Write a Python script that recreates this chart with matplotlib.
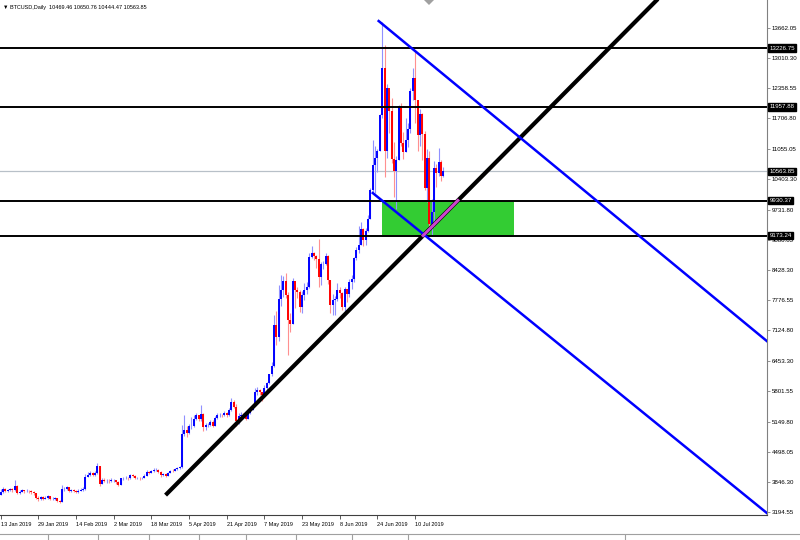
import numpy as np
import matplotlib
matplotlib.use("Agg")
import matplotlib.pyplot as plt
import matplotlib.transforms as mtransforms
from matplotlib import font_manager
from matplotlib.patches import Rectangle, Polygon

# --- daily BTCUSD bars (bar index 0 = 13 Jan 2019), open = previous close ---
first_open = 3560
close = [3620, 3700, 3640, 3670, 3690, 3660, 3760, 3610, 3630, 3660,
         3640, 3650, 3640, 3620, 3600, 3500, 3470, 3510, 3480, 3500,
         3530, 3470, 3480, 3490, 3440, 3420, 3690, 3690, 3730, 3650,
         3660, 3650, 3630, 3650, 3670, 3690, 3960, 4000, 4040, 4000,
         4040, 4190, 3810, 3890, 3870, 3870, 3860, 3880, 3880, 3850,
         3780, 3920, 3930, 3940, 3920, 4000, 3980, 3920, 3930, 3920,
         3930, 3980, 4060, 4040, 4080, 4100, 4110, 4060, 4000, 4010,
         3980, 4040, 4090, 4080, 4120, 4140, 4160, 4880, 4960, 4900,
         5050, 5060, 5200, 5290, 5200, 5320, 5030, 5080, 5080, 5150,
         5060, 5230, 5290, 5300, 5290, 5330, 5290, 5400, 5580, 5470,
         5160, 5280, 5290, 5280, 5210, 5330, 5400, 5500, 5790, 5830,
         5780, 5730, 5880, 5990, 6170, 6360, 7230, 6980, 7800, 8000,
         8200, 7880, 7350, 7260, 8190, 7990, 7950, 7630, 7880, 7990,
         8050, 8700, 8800, 8730, 8660, 8270, 8550, 8560, 8740, 8210,
         7680, 7790, 7810, 8000, 7930, 7630, 8010, 7920, 8170, 8230,
         8690, 8860, 8970, 9320, 9080, 9270, 9530, 10150, 10700, 10860,
         11010, 11770, 12800, 11000, 12370, 11870, 10820, 10580, 10800, 11980,
         11180, 10980, 11240, 11470, 12290, 12570, 12100, 11350, 11800, 11370,
         10200, 10850, 9430, 9680, 10630, 10530, 10760, 10469.46, 10563.85]
high = [3700, 3730, 3720, 3700, 3720, 3710, 3890, 3770, 3670, 3700,
        3680, 3690, 3670, 3660, 3640, 3610, 3530, 3540, 3530, 3530,
        3560, 3540, 3510, 3520, 3500, 3460, 3780, 3740, 3760, 3740,
        3700, 3690, 3680, 3690, 3710, 3730, 4010, 4060, 4090, 4070,
        4080, 4260, 4200, 3930, 3920, 3910, 3900, 3920, 3910, 3890,
        3870, 3940, 3960, 3980, 3960, 4020, 4020, 3990, 3960, 3950,
        3960, 4010, 4100, 4080, 4110, 4140, 4150, 4130, 4080, 4040,
        4030, 4060, 4110, 4130, 4150, 4170, 4200, 5080, 5300, 5050,
        5090, 5250, 5290, 5340, 5300, 5510, 5330, 5110, 5130, 5190,
        5180, 5260, 5330, 5340, 5320, 5370, 5350, 5440, 5650, 5620,
        5530, 5330, 5350, 5340, 5300, 5350, 5430, 5540, 5880, 5900,
        5850, 5800, 5950, 6000, 6180, 6430, 7450, 7550, 8100, 8320,
        8300, 8370, 7950, 7500, 8260, 8100, 8050, 8000, 7980, 8140,
        8160, 8800, 8950, 8820, 8750, 9100, 8600, 8630, 8800, 8750,
        8220, 7900, 7870, 8140, 8060, 7960, 8050, 8020, 8230, 8330,
        8710, 8920, 9380, 9460, 9340, 9330, 9620, 10200, 11230, 11110,
        11050, 11800, 13800, 13300, 12450, 12300, 12150, 11200, 10900, 12000,
        12050, 11420, 11720, 11600, 12360, 12800, 13190, 12110, 11920, 11830,
        11430, 11050, 11000, 9960, 10780, 10720, 11070, 10800, 10650.76]
low = [3560, 3600, 3620, 3630, 3640, 3630, 3650, 3590, 3580, 3620,
       3610, 3620, 3600, 3590, 3560, 3470, 3440, 3450, 3450, 3470,
       3480, 3450, 3450, 3460, 3420, 3400, 3410, 3650, 3660, 3630,
       3620, 3620, 3600, 3610, 3640, 3650, 3680, 3950, 3980, 3970,
       3980, 4020, 3760, 3790, 3840, 3820, 3830, 3850, 3840, 3800,
       3750, 3770, 3890, 3910, 3890, 3910, 3950, 3900, 3900, 3890,
       3900, 3920, 3970, 4010, 4030, 4060, 4080, 4040, 3960, 3970,
       3960, 3970, 4030, 4060, 4080, 4100, 4120, 4140, 4830, 4820,
       4880, 4980, 5030, 5180, 5160, 5170, 4940, 4960, 5040, 5060,
       5040, 5060, 5210, 5250, 5240, 5270, 5250, 5260, 5380, 5440,
       5060, 5100, 5230, 5250, 5180, 5200, 5320, 5390, 5490, 5720,
       5730, 5600, 5720, 5800, 5960, 6130, 6340, 6800, 6900, 7650,
       7850, 7820, 6600, 7080, 7270, 7600, 7830, 7520, 7500, 7780,
       7920, 8030, 8680, 8650, 8470, 8050, 8100, 8450, 8530, 8130,
       7500, 7460, 7460, 7750, 7820, 7560, 7550, 7740, 7850, 8020,
       8160, 8650, 8800, 8970, 8950, 8970, 9260, 9530, 10100, 10100,
       10550, 11010, 11720, 10450, 10850, 11400, 10750, 10000, 9750, 10800,
       11100, 10830, 10980, 11080, 11390, 12110, 11600, 11000, 11100, 10800,
       10150, 9900, 9380, 9180, 9350, 10220, 10460, 10350, 10444.47]

date_labels = ["13 Jan 2019", "29 Jan 2019", "14 Feb 2019", "2 Mar 2019",
               "18 Mar 2019", "5 Apr 2019", "21 Apr 2019", "7 May 2019",
               "23 May 2019", "8 Jun 2019", "24 Jun 2019", "10 Jul 2019"]
label_step = 16

price_ticks = [13662.05, 13010.30, 12358.55, 11706.80, 11055.05, 10403.30,
               9731.80, 9080.05, 8428.30, 7776.55, 7124.80, 6453.30,
               5801.55, 5149.80, 4498.05, 3846.30, 3194.55]
levels = [13226.75, 11957.88, 9930.37, 9173.24]
last_price = 10563.85
header = "BTCUSD,Daily  10469.46 10650.76 10444.47 10563.85"

# drawn objects, anchors as (bar index, price)
trend_up = [(70, 3560), (179.6, 9185)]
channel_top = [(160.5, 13813), (324.8, 6914)]
channel_bottom = [(158, 10093), (324.8, 3195)]
zone = (161.8, 217.8, 9142, 9930.37)

# --- fonts ---
names = {f.name for f in font_manager.fontManager.ttflist}
small_font = next((n for n in ["Liberation Sans Narrow", "Liberation Sans"] if n in names), "DejaVu Sans")
fam = [small_font, "DejaVu Sans"]
narrow = small_font == "Liberation Sans Narrow"
fs_y = 5.2 if narrow else 4.4
fs_x = 4.8 if narrow else 4.0
fs_head = 4.8 if narrow else 4.0

W, H = 800, 540
fig = plt.figure(figsize=(8, 5.4), dpi=100)
ax = fig.add_axes([0, 1 - 515 / H, 767 / W, 515 / H])
ax.set_xlim(-0.3, 325.4)
ax.set_ylim(3129.7, 14267.6)

# zone rectangle
ax.add_patch(Rectangle((zone[0], zone[2]), zone[1] - zone[0], zone[3] - zone[2],
                       facecolor="#33cc33", edgecolor="none", zorder=1))

# candles
c = np.array(close, dtype=float)
h = np.array(high, dtype=float)
l = np.array(low, dtype=float)
o = np.concatenate([[first_open], c[:-1]])
x = np.arange(len(c))
up = c >= o
dn = ~up
ax.vlines(x[up], l[up], h[up], color="#9090ff", lw=0.8, zorder=2)
ax.vlines(x[dn], l[dn], h[dn], color="#ff9090", lw=0.8, zorder=2)
ax.vlines(x[up], o[up], c[up], color="#0000ff", lw=1.4, zorder=2.1)
ax.vlines(x[dn], o[dn], c[dn], color="#ff0000", lw=1.4, zorder=2.1)

# horizontal levels
for lv in levels:
    ax.axhline(lv, color="black", lw=1.4, zorder=3)
ax.axhline(last_price, color="#b8c0c8", lw=0.9, zorder=1.5)


def extend(p, q, x_end):
    slope = (q[1] - p[1]) / (q[0] - p[0])
    return [p[0], x_end], [p[1], p[1] + slope * (x_end - p[0])]


# trend line
xs, ys = extend(trend_up[0], trend_up[1], 320)
ax.plot(xs, ys, color="black", lw=3.0, solid_capstyle="butt", zorder=4)
# magenta segment on trend line between the two lower levels
slope = (trend_up[1][1] - trend_up[0][1]) / (trend_up[1][0] - trend_up[0][0])
mx = [trend_up[0][0] + (lv - trend_up[0][1]) / slope for lv in (levels[3], levels[2])]
ax.plot(mx, [levels[3], levels[2]], color="#cc44cc", lw=2.2, zorder=4.5)

# channel lines
for line in (channel_top, channel_bottom):
    xs, ys = extend(line[0], line[1], 345)
    ax.plot(xs, ys, color="#0000ff", lw=1.8, zorder=4)

# axes styling
for s in ("left", "top"):
    ax.spines[s].set_visible(False)
ax.spines["right"].set_color("#808080")
ax.spines["right"].set_linewidth(0.8)
ax.spines["bottom"].set_color("#404040")
ax.spines["bottom"].set_linewidth(0.8)

ax.set_xticks(np.arange(len(date_labels)) * label_step)
ax.set_xticklabels(date_labels, fontsize=fs_x, family=fam)
for t in ax.get_xticklabels():
    t.set_ha("left")
ax.tick_params(axis="x", length=3, width=0.6, color="#404040", pad=2)

ax.yaxis.tick_right()
ax.set_yticks(price_ticks)
ax.set_yticklabels([f"{v:.2f}" for v in price_ticks], fontsize=fs_y, family=fam)
ax.tick_params(axis="y", length=2.5, width=0.6, color="#808080", pad=1)

trans = mtransforms.blended_transform_factory(ax.transAxes, ax.transData)
for lv in levels + [last_price]:
    ax.text(1.003, lv, f"{lv:.2f}", transform=trans, ha="left", va="center",
            fontsize=fs_y, family=fam, color="white", zorder=10, clip_on=False,
            bbox=dict(boxstyle="square,pad=0.2", facecolor="black", edgecolor="black"))

# header
fig.text(3 / W, 1 - 7 / H, "\u25bc " + header, fontsize=fs_head, family=fam,
         ha="left", va="center", color="black")

# small marker at top and bottom tab strip
fig.patches.append(Polygon([(424 / W, 1.0), (434 / W, 1.0), (429 / W, 1 - 5 / H)],
                           closed=True, transform=fig.transFigure,
                           facecolor="#a0a0a0", edgecolor="none"))
fig.add_artist(plt.Line2D([0, 1], [1 - 534 / H, 1 - 534 / H], color="#a0a0a0",
                          lw=0.8, transform=fig.transFigure))
for sx in (48, 98, 149, 199, 246, 296, 352, 408, 625):
    fig.add_artist(plt.Line2D([sx / W, sx / W], [0, 1 - 535 / H], color="#a0a0a0",
                              lw=0.8, transform=fig.transFigure))

fig.savefig("out.png", dpi=100)
